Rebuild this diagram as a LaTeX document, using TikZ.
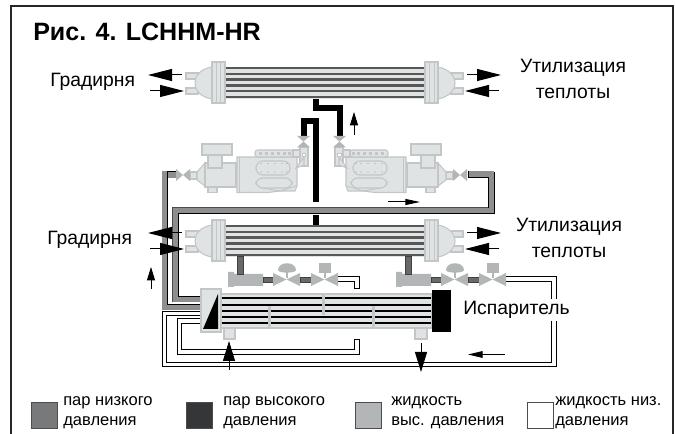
\documentclass[tikz,border=0pt]{standalone}
\usepackage{fontspec}
\setmainfont{Liberation Sans}
\definecolor{shell}{HTML}{E0E3E3}
\definecolor{edge}{HTML}{C2C6C6}
\definecolor{valvegray}{HTML}{B2B6B6}
\definecolor{lowgas}{HTML}{8C8E90}
\definecolor{highgas}{HTML}{414445}
\definecolor{tube}{HTML}{555856}
\usetikzlibrary{arrows.meta}
\tikzset{
  part/.style={draw=edge,fill=shell,line width=.8pt},
  valvepart/.style={fill=valvegray,draw=none},
  label/.style={font=\fontsize{14.5}{16}\selectfont,align=center,inner sep=0pt},
  legendtext/.style={font=\fontsize{12.4}{15}\selectfont,align=left,anchor=west,inner sep=0pt},
  legendbox/.style={draw=black!70,line width=.7pt,minimum width=19.5pt,minimum height=19.5pt,inner sep=0pt,anchor=north west},
  bigflow/.style={line width=.75pt,-{Triangle[length=18pt,width=9pt]}},
  lowpipe/.style={draw=lowgas,line width=4.6pt},
  whiteout/.style={draw=black,line width=4.2pt,line cap=butt},
  whitein/.style={draw=white,line width=2.9pt,line cap=butt},
  hotpipe/.style={draw=black,line width=4.5pt}
}
\newcommand{\exchanger}[1]{%
  \begin{scope}[yshift=-#1*0.75pt]
    \fill[shell] (225,67) rectangle (424,99);
    \foreach \ty in {68,73.8,79.6,85.4,91.2,97}{
      \draw[tube,line width=1.9pt] (225,\ty) -- (424,\ty);}
    \draw[part] (186,73) rectangle (198,79);
    \draw[part] (186,88) rectangle (198,94);
    \draw[part] (212,67) .. controls (200,69) and (195,76) .. (195,83) .. controls (195,90) and (200,97) .. (212,99) -- cycle;
    \draw[part] (212,62) rectangle (225,103);
    \draw[edge,line width=.7pt] (216,62) -- (216,103) (220,62) -- (220,103);
    \draw[part] (451,73) rectangle (463,79);
    \draw[part] (451,88) rectangle (463,94);
    \draw[part] (438,67) .. controls (449,69) and (455,76) .. (455,83) .. controls (455,90) and (449,97) .. (438,99) -- cycle;
    \draw[part] (425,62) rectangle (438,103);
    \draw[edge,line width=.7pt] (429,62) -- (429,103) (434,62) -- (434,103);
  \end{scope}}
\newcommand{\compressor}{%
  \draw[part] (190,172) -- (197,172) -- (197,179) -- (190,179) -- cycle;
  \draw[part] (197,172) -- (205,163) -- (205,186) -- (197,180) -- cycle;
  \draw[part] (208,186) rectangle (217,192.5);
  \draw[part] (205,163) -- (236,163) -- (236,187) -- (205,187) -- cycle;
  \draw[part] (202,144) rectangle (232,155);
  \draw[part] (208,155) rectangle (222,168);
  \draw[part] (237,157) -- (297,157) -- (297,186) -- (295,191) -- (280,191) -- (268,192.5) -- (237,192.5) -- cycle;
  \draw[edge,line width=.7pt] (239.5,157) -- (239.5,192.5);
  \draw[edge,line width=.7pt] (262,188) -- (280,191) -- (296,186);
  \draw[part,rounded corners=2pt] (255,150) rectangle (293,157);
  \foreach \dx in {259,265,271,277,283,288}{
    \fill[edge] (\dx,151.8) rectangle +(2.6,3.5);}
  \draw[part,rounded corners=5pt] (256,161) rectangle (290,175);
  \foreach \dx in {261,268,275,282,287}{
    \fill[black!35] (\dx,163.5) circle (.7);
    \fill[black!35] (\dx,172) circle (.7);}
  \draw[part,rounded corners=5pt] (256,178) rectangle (292,188);
  \draw[part] (293,150) -- (307,150) -- (307,157) -- (293,157) -- cycle;
  \draw[part] (300,147) rectangle (308,166);
  \draw[part] (296,168) -- (304,157) -- (304,165) -- cycle;
  \fill[white] (302,153) rectangle (305.5,156);
  \draw[edge,line width=.6pt] (302,153) rectangle (305.5,156);
  \fill[valvepart] (297,136) -- (310,136) -- (303.5,141.5) -- cycle;
  \fill[valvepart] (297,147.5) -- (310,147.5) -- (303.5,141.5) -- cycle;
  \fill[valvepart] (176,169) -- (176,181) -- (183,175) -- cycle;
  \fill[valvepart] (190,169) -- (190,181) -- (183,175) -- cycle;
}
\newcommand{\expansion}[1]{%
  \begin{scope}[xshift=#1*0.75pt]
    \fill[valvegray] (228,272) -- (234,272) -- (234,274) -- (263,274) -- (263,286) -- (234,286) -- (234,287) -- (228,287) -- cycle;
    \draw[draw=black!75,fill=highgas!80,line width=.6pt] (237.5,256) rectangle (243,274);
    \draw[draw=black!75,fill=highgas!80,line width=.6pt] (263,277) rectangle (273,282);
    \fill[valvepart] (273,273) -- (273,286) -- (286.5,279.5) -- cycle;
    \fill[valvepart] (300,273) -- (300,286) -- (286.5,279.5) -- cycle;
    \draw[draw=black!75,fill=highgas!80,line width=.6pt] (300,277) rectangle (311,282);
    \fill[valvepart] (311,273) -- (311,286) -- (324.5,279.5) -- cycle;
    \fill[valvepart] (338,273) -- (338,286) -- (324.5,279.5) -- cycle;
    \fill[valvepart] (278,270) .. controls (278,261) and (296,261) .. (296,270) .. controls (296,273.5) and (278,273.5) .. (278,270) -- cycle;
    \fill[valvepart] (285.5,272) rectangle (287.5,278);
    \fill[valvepart] (319,263) rectangle (331,273);
    \fill[valvepart] (324,272) rectangle (326,278);
  \end{scope}}
\begin{document}
\begin{tikzpicture}[x=0.75pt,y=-0.75pt]
\useasboundingbox (0,0) rectangle (675,434);
\fill[white] (0,0) rectangle (675,434);
\draw[black!85,line width=1.3pt] (11,434) -- (11,6) -- (673,6) -- (673,434);

\coordinate (lpA1) at (176,174.5);
\coordinate (lpA2) at (164.8,174.5);
\coordinate (lpA3) at (164.8,307);
\coordinate (lpA4) at (201,307);
\coordinate (lpB1) at (468,174.5);
\coordinate (lpB2) at (491,174.5);
\coordinate (lpB3) at (491,210.5);
\coordinate (lpB4) at (175.3,210.5);
\coordinate (lpB5) at (175.3,299.3);
\coordinate (lpB6) at (201,299.3);

\foreach \st in {whiteout,whitein}{
  \draw[\st] (201,321) -- (179.5,321) -- (179.5,352) -- (357,352) -- (357,339);
  \draw[\st] (201,313.5) -- (164.5,313.5) -- (164.5,364.5) -- (554,364.5) -- (554,279) -- (506,279);
  \draw[\st] (338,279) -- (357,279) -- (357,288);
}
\draw[black,line width=.6pt] (354.2,339) -- (359.8,339) (354.2,288) -- (359.8,288);

\draw[lowpipe] (lpA1) -- (lpA2) -- (lpA3) -- (lpA4);
\draw[black,line width=.6pt] (176,171.5) -- (167.8,171.5) -- (167.8,304) -- (201,304);
\draw[lowpipe] (lpB1) -- (lpB2) -- (lpB3) -- (lpB4) -- (lpB5) -- (lpB6);
\draw[black,line width=.6pt] (468,171.5) -- (468,177.5) -- (488,177.5) -- (488,207.7);
\draw[black!70,line width=.5pt] (488,207.7) -- (172.3,207.7) -- (172.3,302);
\draw[black,line width=.7pt] (494.2,172) -- (494.2,213.4) -- (178.3,213.4) -- (178.3,296.4) -- (201,296.4);

\coordinate (hotA1) at (315.5,98);
\coordinate (hotA2) at (315.5,108);
\coordinate (hotA3) at (340,108);
\coordinate (hotA4) at (340,137);
\coordinate (hotB1) at (303.5,137);
\coordinate (hotB2) at (303.5,121);
\coordinate (hotB3) at (315.5,121);
\coordinate (hotB4) at (315.5,202);
\coordinate (hotC1) at (315.5,215);
\coordinate (hotC2) at (315.5,225);
\draw[hotpipe] (hotA1) -- (hotA2) -- (hotA3) -- (hotA4);
\draw[hotpipe] (hotB1) -- (hotB2) -- (hotB3) -- (hotB4);
\draw[hotpipe] (hotC1) -- (hotC2);

\exchanger{0}
\exchanger{158}
\compressor
\begin{scope}[shift={(643,0)},xscale=-1]
  \compressor
\end{scope}
\expansion{0}
\expansion{168}

\fill[shell,draw=edge,line width=.8pt] (221,294) rectangle (432,328);
\foreach \ty in {298,305,311,317,323}{
  \draw[black,line width=2.2pt] (221,\ty) -- (431,\ty);}
\fill[edge] (268,306.5) rectangle (270.5,327);
\fill[edge] (372,306.5) rectangle (374.5,327);
\fill[edge] (322,294) rectangle (324.5,315);
\draw[part] (224,328) rectangle (235,339);
\draw[part] (415,328) rectangle (427,339);
\draw[part] (201,289) rectangle (221,332);
\fill[black] (218,294) -- (218,329) -- (203,329) -- cycle;
\fill[black] (432,290) rectangle (451,332);

\coordinate (a1s) at (182,75); \coordinate (a1e) at (148,75);
\coordinate (a2s) at (150,91); \coordinate (a2e) at (184,91);
\coordinate (a3s) at (467,75); \coordinate (a3e) at (501,75);
\coordinate (a4s) at (499,91); \coordinate (a4e) at (465,91);
\coordinate (a5s) at (182,233); \coordinate (a5e) at (148,233);
\coordinate (a6s) at (150,249); \coordinate (a6e) at (184,249);
\coordinate (a7s) at (467,233); \coordinate (a7e) at (501,233);
\coordinate (a8s) at (499,249); \coordinate (a8e) at (465,249);
\foreach \p in {1,...,8}{\draw[bigflow] (a\p s) -- (a\p e);}
\coordinate (b1s) at (354,135); \coordinate (b1e) at (354,112);
\coordinate (b2s) at (151,289); \coordinate (b2e) at (151,267);
\draw[line width=.75pt,-{Triangle[length=10pt,width=6pt]}] (b1s) -- (b1e);
\draw[line width=.75pt,-{Triangle[length=10pt,width=6pt]}] (b2s) -- (b2e);
\coordinate (c1s) at (388,202); \coordinate (c1e) at (420,202);
\draw[line width=.75pt,-{Triangle[length=11pt,width=4.5pt]}] (c1s) -- (c1e);
\coordinate (c2s) at (505,354.5); \coordinate (c2e) at (468,354.5);
\draw[line width=.75pt,-{Triangle[length=11pt,width=5pt]}] (c2s) -- (c2e);
\coordinate (d1s) at (229,370); \coordinate (d1e) at (229,341);
\coordinate (d2s) at (421,343); \coordinate (d2e) at (421,372);
\draw[line width=.75pt,-{Triangle[length=15pt,width=9pt]}] (d1s) -- (d1e);
\draw[line width=.75pt,-{Triangle[length=15pt,width=9pt]}] (d2s) -- (d2e);

\node[anchor=west,inner sep=0pt,font=\fontsize{18.8}{20}\selectfont\bfseries] (title) at (33,32) {Рис. 4. LCHHM-HR};
\node[label,anchor=west] (g1) at (50,82) {Градирня};
\node[label,anchor=west] (g2) at (47,240) {Градирня};
\node[label] (u1) at (573,79) {Утилизация\\[3pt]теплоты};
\node[label] (u2) at (569,238) {Утилизация\\[3pt]теплоты};
\node[label,anchor=west,fill=white,inner ysep=2pt] (isp) at (463,310) {Испаритель};

\node[legendbox,fill=lowgas!85!black] (k1) at (31,402) {};
\node[legendbox,fill=highgas!80!black] (k2) at (186,402) {};
\node[legendbox,fill=valvegray] (k3) at (355,402) {};
\node[legendbox,fill=white] (k4) at (527,402) {};
\node[legendtext] (t1) at (63,413) {пар низкого\\давления};
\node[legendtext] (t2) at (223,413) {пар высокого\\давления};
\node[legendtext] (t3) at (391,413) {жидкость\\выс. давления};
\node[legendtext] (t4) at (555,413) {жидкость низ.\\давления};
\end{tikzpicture}
\end{document}
